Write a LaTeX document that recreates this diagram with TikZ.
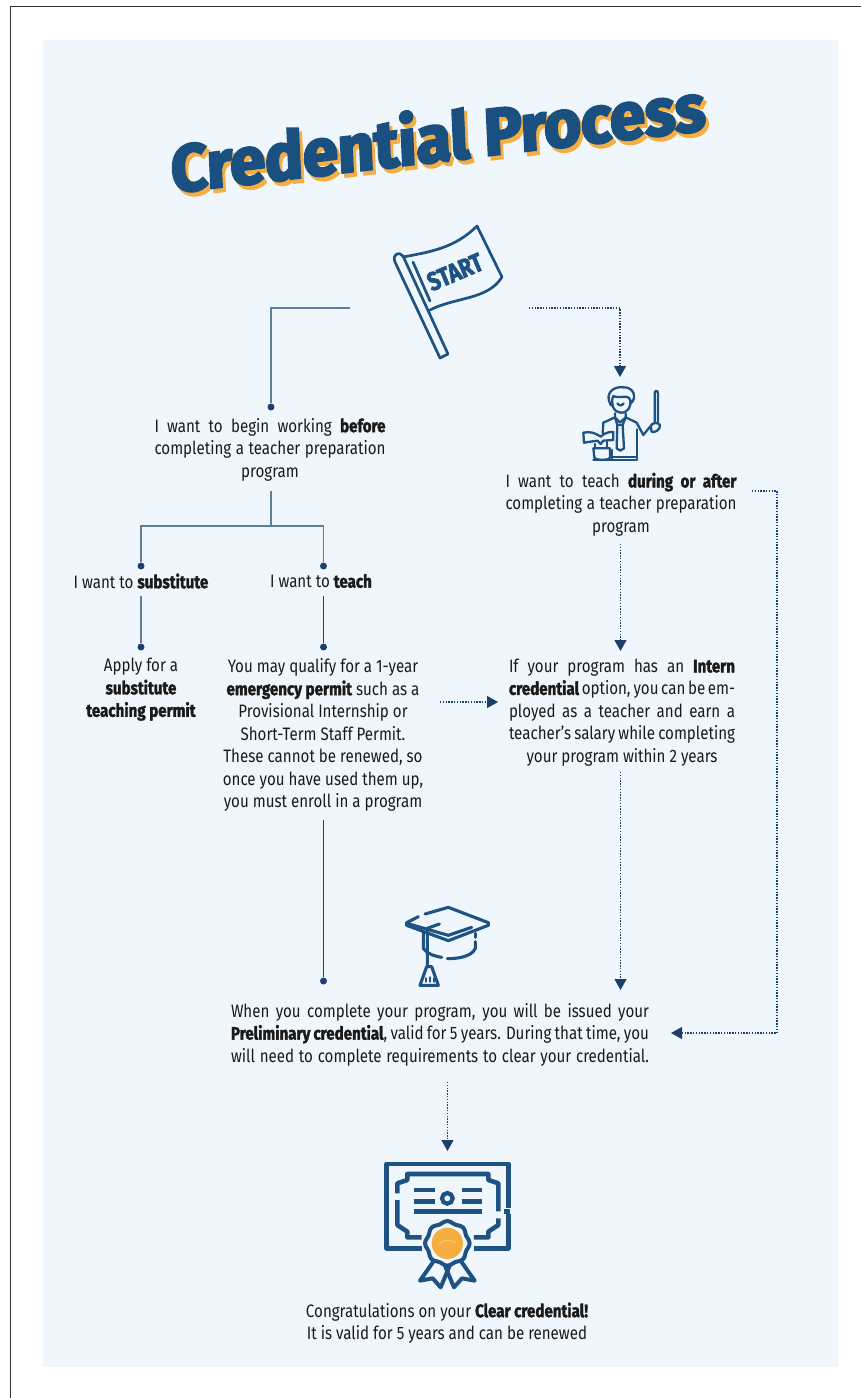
\documentclass[tikz,border=0pt]{standalone}
\usepackage{fontspec}
\usetikzlibrary{arrows.meta}
\setmainfont{Fira Sans}[FakeStretch=0.84,BoldFeatures={FakeStretch=0.84,FakeBold=1.8}]
\newfontfamily\titlefont{Fira Sans}[UprightFont=* Bold,FakeStretch=0.82,FakeBold=3.5]
\newfontfamily\startfont{Fira Sans}[UprightFont=* Bold,FakeStretch=0.8,FakeBold=2.5]
\definecolor{panel}{HTML}{F0F7FC}
\definecolor{navy}{HTML}{1C3F6E}
\definecolor{iconblue}{HTML}{1D5282}
\definecolor{titleblue}{HTML}{1A5080}
\definecolor{sealorange}{HTML}{F5AE3F}
\definecolor{greyline}{HTML}{5F7D9F}
\definecolor{ink}{HTML}{1A1A1A}
\newcommand{\jl}[2]{\makebox[#1pt][s]{#2}}
\tikzset{
  txt/.style={font=\fontsize{18}{22.5}\selectfont,text=ink,align=center,inner sep=0pt},
  dotn/.style={circle,fill=navy,inner sep=0pt,minimum size=7pt},
  solidline/.style={draw=greyline,line width=1.1pt},
  darkline/.style={draw=navy,line width=1.1pt},
  dotline/.style={draw=navy,line width=1.3pt,dash pattern=on 1.4pt off 1.4pt},
  dotarrow/.style={dotline,-{Triangle[length=11pt,width=12pt,fill=navy]}},
  icon/.style={draw=iconblue,line width=2.3pt,line cap=round,line join=round},
  capline/.style={draw=iconblue,line width=3.1pt,line cap=round,line join=round},
  flagline/.style={draw=iconblue,line width=2.7pt,line cap=round,line join=round},
  cert/.style={draw=iconblue,line width=4.6pt,line join=round},
  titletxt/.style={font=\titlefont\fontsize{77}{77}\selectfont,inner sep=0pt,anchor=center}
}
\begin{document}
\begin{tikzpicture}[x=1pt,y=-1pt]
\useasboundingbox (0,0) rectangle (861,1398);
\fill[white] (0,0) rectangle (861,1398);
\fill[panel] (43,40) rectangle (838,1367);
\draw[draw=black!80,line width=1pt] (10,1398) -- (10,6) -- (861,6);

% title
\node[titletxt,text=sealorange,transform shape,cm={1,0.118,-0.04,0.86,(441,139)}] (titleshade) at (0,0) {Credential Process};
\node[titletxt,text=titleblue,transform shape,cm={1,0.118,-0.04,0.86,(438,135)}] (title) at (0,0) {Credential Process};

% flag
\draw[flagline] (403,256) .. controls (399,251) and (392,254) .. (395,262) -- (440,358) -- (448,354) -- (403,256);
\draw[flagline] (403,257) .. controls (430,252) and (455,248) .. (477,226) -- (502,277)
  .. controls (488,300) and (455,297) .. (430,310);
\draw[flagline] (413,262) -- (430,301);
\node[font=\startfont\fontsize{26}{26}\selectfont,text=iconblue,rotate=23,inner sep=0pt] (start) at (455,272) {START};

% teacher icon
\begin{scope}[shift={(560,370)},x=0.3333pt,y=-0.3333pt]
\draw[icon,fill=panel] (150,100) .. controls (135,70) and (160,48) .. (190,52) .. controls (222,50) and (232,85) .. (212,100) .. controls (212,85) and (205,80) .. (195,80) .. controls (180,82) and (165,82) .. (160,78);
\draw[icon] (160,78) .. controls (152,95) and (155,125) .. (183,128) .. controls (205,128) and (212,110) .. (212,92);
\draw[icon] (172,100) .. controls (178,108) and (186,108) .. (191,100);
\draw[icon] (150,100) .. controls (150,106) and (155,108) .. (159,106);
\draw[icon] (165,130) -- (165,142) -- (130,158) -- (128,190);
\draw[icon] (197,130) -- (197,142) -- (230,158) -- (250,195) -- (272,168);
\draw[icon] (165,142) -- (180,158) -- (197,142);
\draw[icon] (172,165) -- (170,235) -- (181,242) -- (192,235) -- (188,165) -- cycle;
\draw[icon] (165,142) -- (172,165) (197,142) -- (188,165);
\draw[icon] (230,178) -- (230,270) -- (100,270) (155,270) -- (155,240) (230,262) -- (158,262);
\draw[icon] (272,168) .. controls (275,158) and (295,155) .. (300,165) .. controls (302,178) and (285,190) .. (275,185) -- (272,168);
\draw[icon] (284,155) -- (284,70) .. controls (284,60) and (294,60) .. (294,70) -- (294,155);
\draw[icon] (70,188) .. controls (90,184) and (105,188) .. (122,200) .. controls (135,188) and (148,185) .. (160,186) -- (160,210) -- (130,212) -- (122,222) -- (112,212) -- (72,218) -- cycle;
\draw[icon] (100,235) -- (150,235) -- (150,262) .. controls (150,272) and (105,272) .. (103,262) -- (100,235);
\draw[icon] (105,222) -- (105,235) (140,212) -- (140,235);
\end{scope}

% cap icon
\begin{scope}[shift={(390,900)},x=0.3333pt,y=-0.3333pt]
\draw[capline] (105,42) -- (175,22) -- (295,68) -- (295,76) -- (175,122) -- (50,76) -- (50,68) -- (85,50);
\draw[capline] (50,70) -- (175,106) -- (245,82);
\draw[capline] (100,95) -- (100,145) .. controls (115,165) and (135,168) .. (155,172);
\draw[capline] (172,176) .. controls (205,176) and (245,170) .. (256,145) -- (256,125);
\draw[capline] (256,112) -- (256,100);
\draw[capline] (148,72) -- (112,85) -- (112,200);
\draw[capline] (110,200) -- (125,200) -- (145,256) -- (90,256) -- (110,200);
\draw[icon] (107,245) -- (107,235) (120,245) -- (120,232) (132,245) -- (132,235);
\end{scope}

% certificate icon
\begin{scope}[shift={(370,1150)},x=0.3333pt,y=-0.3333pt]
\draw[cert] (155,295) -- (50,295) -- (50,42) -- (415,42) -- (415,173);
\draw[cert] (415,192) -- (415,295) -- (312,295);
\draw[cert] (402,184) -- (420,184);
\draw[cert] (155,262) -- (112,262) -- (112,245) -- (82,225) -- (82,150);
\draw[cert] (82,130) -- (82,100) -- (112,90) -- (112,72) -- (355,72) -- (355,90) -- (385,100) -- (385,184);
\draw[cert] (385,205) -- (385,225) -- (355,245) -- (355,262) -- (312,262);
\draw[cert] (132,120) -- (195,120) (132,155) -- (195,155) (275,120) -- (335,120) (275,155) -- (335,155) (132,185) -- (335,185);
\draw[iconblue,line width=4.2pt] (232,145) circle (16);
\fill[panel] (232,280) circle (72);
\draw[cert,line width=4pt,fill=panel]
  plot[smooth cycle,samples=48,domain=0:352.5] ({232+(64+3*cos(8*\x))*cos(\x)},{280+(64+3*cos(8*\x))*sin(\x)});
\fill[sealorange] (232,280) circle (47);
\draw[sealorange!70!white,line width=1pt] (205,285) -- (225,270) -- (255,275);
\draw[cert,line width=4pt] (190,335) -- (150,392) -- (188,385) -- (212,412) -- (240,345);
\draw[cert,line width=4pt] (274,335) -- (314,392) -- (276,385) -- (252,412) -- (224,345);
\end{scope}

% text nodes
\node[txt] (before) at (270,449.5) {\jl{231}{I want to begin working \textbf{before}}\\ \jl{231}{completing a teacher preparation}\\ program};
\node[txt] (during) at (621,504.5) {\jl{231}{I want to teach \textbf{during or after}}\\ \jl{231}{completing a teacher preparation}\\ program};
\node[txt] (subst) at (141,581) {I want to \textbf{substitute}};
\node[txt] (teach) at (321,581) {I want to \textbf{teach}};
\node[txt] (apply) at (141,689.5) {Apply for a\\ \textbf{substitute}\\ \textbf{teaching permit}};
\node[txt] (qualify) at (323,735) {You may qualify for a 1-year\\ \textbf{emergency permit} such as a\\ Provisional Internship or\\ Short-Term Staff Permit.\\ These cannot be renewed, so\\ once you have used them up,\\ you must enroll in a program};
\node[txt] (intern) at (622,712.5) {\jl{226}{If your program has an \textbf{Intern}}\\ \jl{226}{\textbf{credential} option, you can be em-}\\ \jl{226}{ployed as a teacher and earn a}\\ \jl{226}{teacher's salary while completing}\\ your program within 2 years};
\node[txt] (prelim) at (440,1034.5) {\jl{418}{When you complete your program, you will be issued your}\\ \jl{418}{\textbf{Preliminary credential}, valid for 5 years. During that time, you}\\ \jl{418}{will need to complete requirements to clear your credential.}};
\node[txt] (clear) at (447,1323) {Congratulations on your \textbf{Clear credential!}\\ It is valid for 5 years and can be renewed};

% connector end points
\node[dotn] (d1) at (271,407) {};
\node[dotn] (d2) at (141,566) {};
\node[dotn] (d3) at (323.5,566) {};
\node[dotn] (d4) at (141,647) {};
\node[dotn] (d5) at (323.5,647) {};
\node[dotn] (d6) at (323.5,981) {};
\coordinate (flagL) at (350,308);
\coordinate (flagR) at (529,308);
\coordinate (a1) at (620,377);
\coordinate (beforeB) at (271,491);
\coordinate (fork) at (271,526);
\coordinate (substB) at (141,596);
\coordinate (teachB) at (323.5,596);
\coordinate (qualifyB) at (323.5,820);
\coordinate (duringB) at (620.5,544);
\coordinate (a2) at (620.5,651);
\coordinate (qualifyR) at (440,702);
\coordinate (a3) at (498,702);
\coordinate (internB) at (620.5,772);
\coordinate (a4) at (620.5,990);
\coordinate (duringR) at (752,491);
\coordinate (a5) at (671,1033);
\coordinate (prelimB) at (447.5,1082);
\coordinate (a6) at (447.5,1151);

% connectors
\draw[solidline] (flagL) -| (d1);
\draw[solidline] (beforeB) -- (fork);
\draw[solidline] (d2) |- (fork) -| (d3);
\draw[solidline] (substB) -- (d4);
\draw[darkline] (teachB) -- (d5);
\draw[darkline] (qualifyB) -- (d6);
\draw[dotarrow] (flagR) -| (a1);
\draw[dotarrow] (duringB) -- (a2);
\draw[dotarrow] (qualifyR) -- (a3);
\draw[dotarrow] (internB) -- (a4);
\draw[dotarrow] (duringR) -- (777,491) -- (777,1033) -- (a5);
\draw[dotarrow] (prelimB) -- (a6);
\end{tikzpicture}
\end{document}
